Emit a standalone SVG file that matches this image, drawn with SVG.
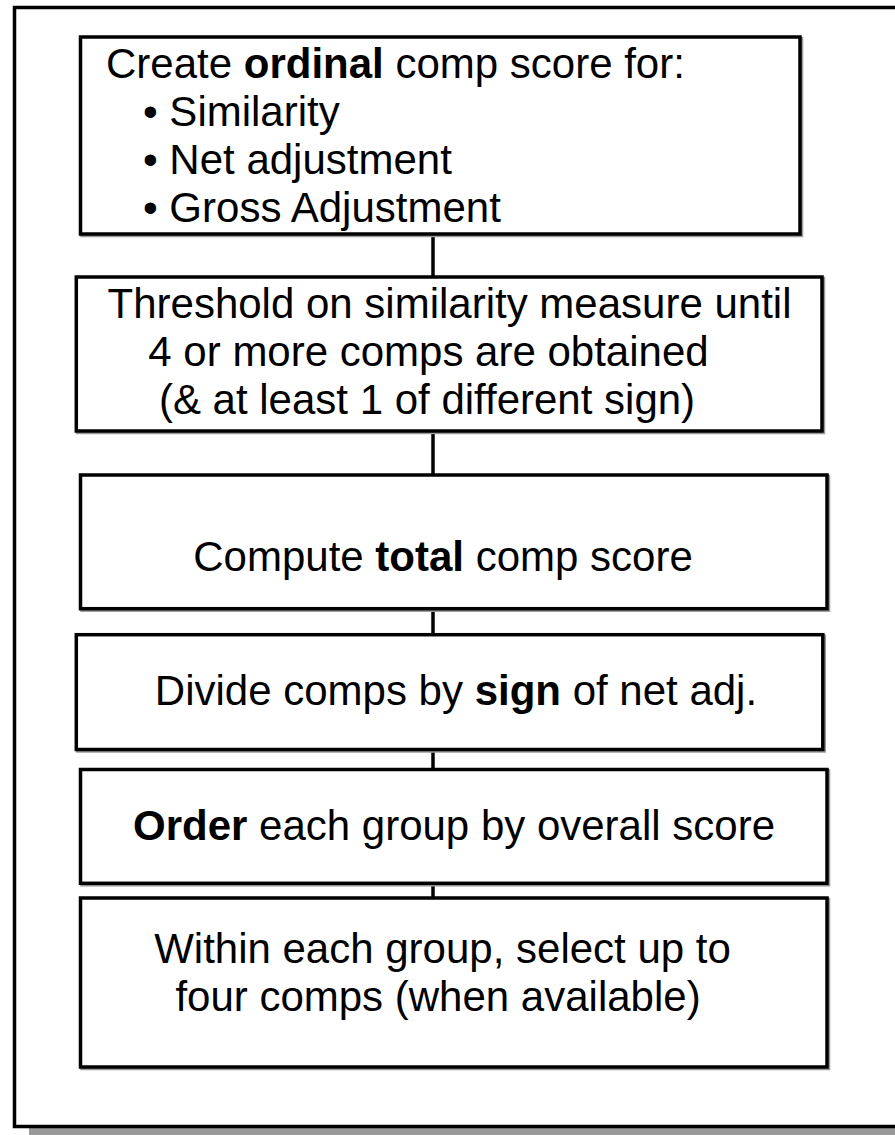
<svg xmlns="http://www.w3.org/2000/svg" width="895" height="1135" viewBox="0 0 895 1135">
  <style>
    .frame { fill: #ffffff; stroke: #000000; stroke-width: 3.5; }
    .box { fill: #ffffff; stroke: #000000; stroke-width: 3.5; }
    .shade { fill: none; stroke: #9a9a9a; stroke-width: 3.5; }
    .link { stroke: #000000; stroke-width: 3.5; fill: none; }
    text { font-family: "Liberation Sans", Arial, sans-serif; font-size: 42px; fill: #000000; }
    .c { text-anchor: middle; }
    .b { font-weight: bold; }
  </style>

  <!-- page background and outer frame with drop shadow -->
  <rect x="0" y="0" width="895" height="1135" fill="#ffffff"/>
  <rect x="29" y="1128" width="880" height="10" fill="#999999"/>
  <rect class="frame" x="14.5" y="7.5" width="900" height="1119"/>

  <!-- connectors -->
  <g id="connectors">
    <line class="link" x1="433" y1="234" x2="433" y2="277"/>
    <line class="link" x1="433" y1="431" x2="433" y2="475"/>
    <line class="link" x1="433" y1="608.7" x2="433" y2="634.7"/>
    <line class="link" x1="433" y1="749.5" x2="433" y2="769.5"/>
    <line class="link" x1="433" y1="883.3" x2="433" y2="898"/>
  </g>

  <g id="step-ordinal">
    <rect class="shade" x="82" y="38.5" width="719.5" height="197"/>
    <rect class="box" x="80.5" y="37" width="719.5" height="197"/>
    <text x="106" y="78">Create <tspan class="b">ordinal</tspan> comp score for:</text>
    <text x="143" y="126">• Similarity</text>
    <text x="143" y="174">• Net adjustment</text>
    <text x="143" y="222">• Gross Adjustment</text>
  </g>

  <g id="step-threshold">
    <rect class="shade" x="77.8" y="278.5" width="745.7" height="154"/>
    <rect class="box" x="76.3" y="277" width="745.7" height="154"/>
    <text class="c" x="449.5" y="318">Threshold on similarity measure until</text>
    <text class="c" x="428.5" y="366">4 or more comps are obtained</text>
    <text class="c" x="427" y="414">(&amp; at least 1 of different sign)</text>
  </g>

  <g id="step-total">
    <rect class="shade" x="82" y="476.5" width="746.5" height="133.7"/>
    <rect class="box" x="80.5" y="475" width="746.5" height="133.7"/>
    <text class="c" x="443" y="571">Compute <tspan class="b">total</tspan> comp score</text>
  </g>

  <g id="step-sign">
    <rect class="shade" x="77.8" y="636.2" width="746.5" height="114.8"/>
    <rect class="box" x="76.3" y="634.7" width="746.5" height="114.8"/>
    <text class="c" x="456" y="705">Divide comps by <tspan class="b">sign</tspan> of net adj.</text>
  </g>

  <g id="step-order">
    <rect class="shade" x="82" y="771" width="746.5" height="113.8"/>
    <rect class="box" x="80.5" y="769.5" width="746.5" height="113.8"/>
    <text class="c" x="454" y="840"><tspan class="b">Order</tspan> each group by overall score</text>
  </g>

  <g id="step-select">
    <rect class="shade" x="82" y="899.5" width="746.5" height="169"/>
    <rect class="box" x="80.5" y="898" width="746.5" height="169"/>
    <text class="c" x="442.5" y="963">Within each group, select up to</text>
    <text class="c" x="438" y="1011">four comps (when available)</text>
  </g>
</svg>
